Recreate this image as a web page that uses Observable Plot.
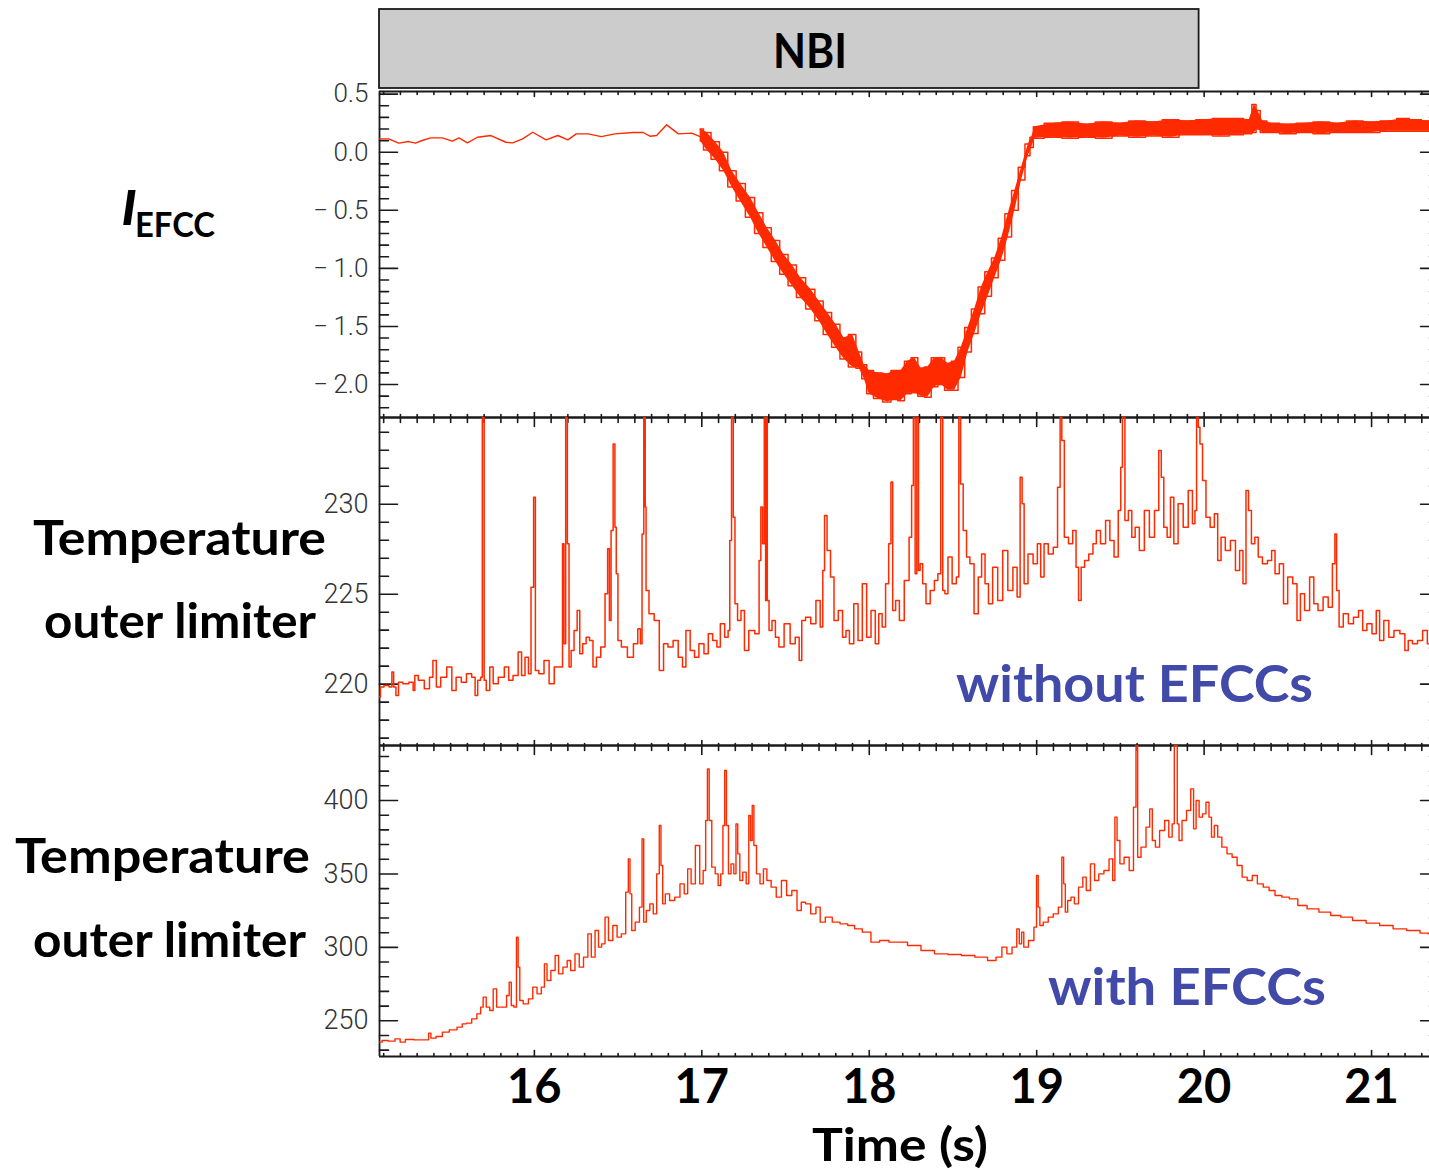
<!DOCTYPE html>
<html><head><meta charset="utf-8">
<script src="https://cdn.jsdelivr.net/npm/d3@7"></script>
<script src="https://cdn.jsdelivr.net/npm/@observablehq/plot@0.6"></script>
<style>
html,body{margin:0;padding:0;background:#fff;overflow:hidden}
#root{position:relative;width:1429px;height:1170px;overflow:hidden;background:#fff}
</style></head>
<body><div id="root"></div>
<script>
// ---------------- data ----------------
const xMajor = [16, 17, 18, 19, 20, 21];
const xMajorLabels = ["16", "17", "18", "19", "20", "21"];
const nbiStart = 15.075, nbiEnd = 19.97;

// I_EFCC : quiet part (thin trace)
const iefccQuietT = [15.075,15.13,15.19,15.25,15.29,15.33,15.38,15.45,15.51,15.55,15.60,15.66,15.74,15.83,15.87,15.93,15.99,16.07,16.14,16.20,16.25,16.32,16.40,16.48,16.59,16.65,16.69,16.73,16.79,16.86,16.94,16.99];
const iefccQuietV = [0.115,0.115,0.078,0.092,0.078,0.101,0.124,0.124,0.095,0.124,0.081,0.129,0.144,0.086,0.081,0.115,0.172,0.107,0.144,0.107,0.158,0.158,0.135,0.158,0.170,0.170,0.138,0.144,0.236,0.158,0.165,0.135];
// I_EFCC : noisy part, envelope (low / high)
const iefccBandT = [16.99,17.03,17.08,17.13,17.18,17.23,17.29,17.34,17.39,17.44,17.49,17.54,17.59,17.65,17.70,17.75,17.80,17.85,17.90,17.94,17.97,18.00,18.05,18.11,18.15,18.19,18.23,18.27,18.31,18.35,18.39,18.43,18.47,18.51,18.55,18.59,18.63,18.67,18.71,18.75,18.79,18.83,18.87,18.91,18.95,18.97,18.99,19.1,19.2,19.3,19.4,19.5,19.6,19.7,19.8,19.9,20.0,20.1,20.2,20.27,20.30,20.32,20.35,20.4,20.5,20.6,20.7,20.8,20.9,21.0,21.1,21.2,21.25,21.346];
const iefccBandLo = [0.10,0.02,-0.06,-0.16,-0.30,-0.42,-0.56,-0.70,-0.82,-0.94,-1.05,-1.15,-1.25,-1.35,-1.45,-1.57,-1.68,-1.78,-1.85,-1.86,-1.95,-2.08,-2.12,-2.15,-2.13,-2.14,-2.08,-2.07,-2.10,-2.11,-2.02,-2.00,-2.05,-2.05,-1.94,-1.72,-1.56,-1.39,-1.24,-1.08,-0.93,-0.73,-0.50,-0.24,-0.03,0.04,0.12,0.13,0.12,0.13,0.12,0.14,0.13,0.14,0.13,0.15,0.15,0.14,0.15,0.16,0.17,0.20,0.17,0.17,0.16,0.17,0.16,0.17,0.17,0.17,0.18,0.18,0.18,0.18];
const iefccBandHi = [0.20,0.17,0.09,0.00,-0.16,-0.27,-0.39,-0.52,-0.65,-0.76,-0.88,-0.97,-1.08,-1.18,-1.28,-1.38,-1.48,-1.60,-1.57,-1.72,-1.83,-1.88,-1.90,-1.91,-1.88,-1.88,-1.80,-1.77,-1.86,-1.85,-1.77,-1.77,-1.82,-1.80,-1.68,-1.51,-1.35,-1.16,-1.03,-0.91,-0.74,-0.53,-0.33,-0.13,0.07,0.13,0.22,0.25,0.26,0.24,0.26,0.25,0.27,0.26,0.28,0.27,0.28,0.29,0.29,0.28,0.41,0.36,0.27,0.25,0.24,0.25,0.26,0.25,0.27,0.26,0.27,0.29,0.28,0.27];
const iefccTicks = [-2, -1.5, -1, -0.5, 0, 0.5];
const iefccTickLabels = ["\u2212\u20092.0", "\u2212\u20091.5", "\u2212\u20091.0", "\u2212\u20090.5", "0.0", "0.5"];

// Temperature outer limiter, without EFCCs
const tempNoT = [15.075,15.086,15.117,15.147,15.151,15.168,15.178,15.199,15.230,15.271,15.281,15.291,15.322,15.363,15.384,15.404,15.425,15.456,15.497,15.517,15.548,15.579,15.610,15.641,15.651,15.672,15.686,15.692,15.698,15.702,15.723,15.744,15.764,15.805,15.836,15.857,15.888,15.918,15.929,15.959,15.970,15.990,16.001,16.011,16.042,16.073,16.103,16.134,16.165,16.171,16.182,16.192,16.202,16.212,16.227,16.247,16.264,16.278,16.299,16.319,16.340,16.360,16.381,16.412,16.432,16.443,16.453,16.463,16.478,16.484,16.494,16.504,16.535,16.576,16.607,16.628,16.638,16.648,16.659,16.665,16.669,16.700,16.731,16.761,16.782,16.813,16.844,16.874,16.895,16.915,16.946,16.967,16.998,17.028,17.049,17.080,17.100,17.121,17.152,17.162,17.172,17.183,17.193,17.203,17.224,17.244,17.265,17.296,17.337,17.347,17.358,17.368,17.378,17.384,17.388,17.394,17.409,17.429,17.450,17.471,17.512,17.543,17.573,17.590,17.604,17.635,17.666,17.697,17.717,17.728,17.738,17.758,17.779,17.800,17.830,17.851,17.871,17.892,17.923,17.943,17.974,17.995,18.026,18.046,18.067,18.087,18.108,18.124,18.135,18.145,18.170,18.190,
18.228,18.248,18.258,18.269,18.279,18.289,18.299,18.309,18.329,18.349,18.379,18.399,18.420,18.434,18.444,18.460,18.480,18.510,18.530,18.540,18.551,18.571,18.591,18.611,18.641,18.661,18.681,18.702,18.722,18.752,18.782,18.812,18.843,18.873,18.893,18.909,18.917,18.933,18.963,18.994,19.014,19.034,19.054,19.084,19.114,19.135,19.145,19.155,19.175,19.205,19.225,19.245,19.255,19.276,19.296,19.326,19.346,19.366,19.396,19.427,19.447,19.477,19.497,19.507,19.517,19.537,19.558,19.578,19.598,19.628,19.658,19.688,19.719,19.739,19.749,19.769,19.789,19.809,19.829,19.860,19.890,19.920,19.940,19.950,19.960,19.970,19.980,20.001,20.021,20.051,20.071,20.091,20.111,20.142,20.172,20.202,20.222,20.242,20.258,20.272,20.293,20.313,20.333,20.363,20.393,20.413,20.434,20.464,20.484,20.514,20.544,20.565,20.585,20.615,20.645,20.665,20.695,20.726,20.756,20.776,20.786,20.796,20.816,20.846,20.877,20.907,20.937,20.957,20.987,21.018,21.038,21.058,21.088,21.118,21.149,21.189,21.209,21.229,21.259,21.290,21.320,21.346];
const tempNoV = [219.28,219.84,219.93,219.84,220.67,219.84,219.37,220.11,220.02,220.11,219.65,220.48,220.21,219.74,220.39,221.32,219.84,220.39,220.95,219.65,220.39,220.11,220.58,220.39,219.37,220.21,220.39,234.8,234.8,220.21,219.65,220.95,220.02,220.39,220.95,220.21,220.48,221.78,220.48,221.50,220.58,225.39,230.39,220.76,220.58,221.32,220.02,220.95,220.95,227.80,222.24,234.8,227.80,220.95,221.87,222.98,224.10,221.69,222.24,222.61,222.43,220.95,221.50,222.06,225.02,227.52,223.54,228.54,233.35,228.72,226.13,222.43,222.06,221.50,222.24,223.08,222.24,228.35,234.8,229.84,225.21,223.91,223.54,220.76,222.24,222.06,222.43,221.50,220.95,222.98,221.87,221.50,222.24,221.69,222.80,222.43,222.06,223.35,222.61,222.98,227.98,234.8,229.28,224.47,223.54,224.10,221.87,222.98,222.80,226.87,229.84,227.80,234.8,224.65,234.8,224.65,222.98,223.54,222.61,222.06,223.35,222.24,222.61,221.32,223.54,223.72,223.35,224.65,223.17,226.32,229.37,227.43,225.95,223.54,224.10,222.61,222.98,222.24,224.47,222.43,225.58,222.61,224.10,222.24,223.91,223.17,225.58,227.80,231.23,224.10,224.65,223.54,
225.76,228.17,231.04,234.8,226.13,234.8,226.32,226.69,225.58,224.47,225.21,225.76,226.13,234.8,225.21,225.02,227.06,225.58,225.95,234.8,231.13,228.54,227.06,226.69,223.91,225.95,227.24,225.58,224.47,226.50,224.65,227.43,225.21,226.50,224.84,231.50,230.02,225.58,227.24,226.69,227.80,225.95,227.80,227.24,227.61,230.95,234.8,233.54,228.17,227.80,228.54,226.50,224.65,226.50,226.87,227.24,227.80,228.54,227.80,229.10,227.98,227.06,229.65,232.06,234.8,229.10,229.65,228.17,228.72,227.43,229.65,228.17,229.65,232.98,231.50,228.72,228.17,230.39,227.80,230.02,228.72,230.76,228.91,229.65,234.8,234.28,233.35,231.32,229.28,228.72,229.47,226.87,228.17,227.43,227.98,226.32,227.43,225.58,230.76,229.65,227.80,228.17,227.06,226.69,226.87,227.43,226.13,226.69,224.47,225.95,225.58,223.54,225.02,224.10,225.95,224.47,224.10,224.84,224.28,226.69,228.35,225.21,223.17,223.91,223.35,223.72,224.10,222.98,223.35,222.80,224.10,222.43,223.54,222.61,222.98,222.80,221.87,222.43,222.24,222.43,222.98,222.24];
const tempNoTicks = [220, 225, 230];
const tempNoTickLabels = ["220", "225", "230"];

// Temperature outer limiter, with EFCCs
const tempWithT = [15.075,15.106,15.147,15.188,15.209,15.250,15.312,15.363,15.374,15.390,15.435,15.466,15.517,15.559,15.579,15.610,15.641,15.672,15.686,15.702,15.723,15.744,15.764,15.785,15.826,15.842,15.857,15.867,15.888,15.898,15.908,15.918,15.949,15.980,16.001,16.031,16.052,16.068,16.083,16.114,16.134,16.155,16.186,16.206,16.227,16.258,16.278,16.309,16.330,16.350,16.375,16.391,16.412,16.432,16.453,16.484,16.504,16.535,16.556,16.566,16.576,16.587,16.617,16.638,16.648,16.658,16.679,16.700,16.720,16.741,16.751,16.761,16.772,16.792,16.823,16.854,16.885,16.905,16.926,16.946,16.977,16.998,17.018,17.028,17.039,17.049,17.070,17.090,17.105,17.121,17.131,17.142,17.152,17.166,17.183,17.199,17.209,17.220,17.234,17.255,17.275,17.286,17.296,17.306,17.316,17.337,17.358,17.378,17.399,17.429,17.460,17.491,17.522,17.553,17.584,17.604,17.635,17.666,17.697,17.717,17.758,17.800,17.851,17.892,17.933,17.984,18.036,18.087,18.149,
18.188,18.269,18.349,18.430,18.510,18.591,18.671,18.742,18.772,18.812,18.832,18.873,18.889,18.903,18.917,18.929,18.973,18.994,19.004,19.014,19.024,19.054,19.084,19.114,19.145,19.155,19.167,19.175,19.195,19.215,19.235,19.265,19.286,19.306,19.336,19.356,19.386,19.417,19.447,19.461,19.473,19.487,19.507,19.537,19.568,19.588,19.598,19.608,19.638,19.668,19.682,19.699,19.719,19.749,19.779,19.799,19.819,19.825,19.835,19.844,19.856,19.880,19.910,19.930,19.944,19.960,19.980,20.001,20.021,20.037,20.051,20.071,20.091,20.121,20.152,20.182,20.212,20.242,20.272,20.303,20.333,20.373,20.403,20.444,20.484,20.534,20.585,20.645,20.726,20.786,20.846,20.927,21.008,21.088,21.169,21.249,21.330,21.346];
const tempWithV = [235.45,236.59,236.13,237.72,235.45,237.27,237.04,237.04,241.58,238.17,239.31,242.26,243.85,245.66,247.93,248.39,251.34,254.74,259.28,266.09,259.28,257.01,271.76,259.28,259.28,267.23,276.30,260.42,259.28,306.94,286.52,263.82,261.55,264.96,272.90,268.36,272.90,288.79,277.44,284.25,294.46,281.98,286.52,291.06,284.25,295.60,286.52,293.33,309.21,293.33,311.48,300.13,302.40,320.56,304.67,314.89,306.94,309.21,337.58,360.28,336.45,311.48,317.16,327.37,373.90,317.16,325.10,329.64,322.83,350.07,382.98,355.74,329.64,336.45,331.91,334.18,343.26,336.45,353.47,343.26,369.36,343.26,352.34,386.38,421.56,386.38,354.61,350.07,342.12,350.07,382.98,420.42,382.98,350.07,356.87,350.07,384.11,363.68,345.53,351.20,343.26,389.78,372.76,396.59,369.36,350.07,343.26,353.47,345.53,340.99,334.18,345.53,335.31,338.72,325.10,330.77,329.64,322.83,327.37,317.16,320.56,317.16,316.02,314.89,312.62,310.35,303.54,304.67,303.54,
303.54,301.27,297.87,295.60,295.14,294.46,293.33,291.06,293.33,300.13,295.60,300.13,312.62,302.40,310.35,300.13,304.67,313.75,348.93,327.37,314.89,317.16,320.56,322.83,327.37,361.41,343.26,323.97,331.91,334.18,329.64,340.99,347.80,338.72,356.87,345.53,350.07,352.34,360.28,345.53,388.65,372.76,356.87,361.41,352.34,395.46,437.4,361.41,368.22,381.84,394.32,372.76,368.22,379.57,386.38,375.03,384.11,437.4,437.4,384.11,372.76,386.38,393.19,407.94,380.71,400.00,388.65,390.92,398.86,388.65,375.03,382.98,375.03,368.22,363.68,361.41,355.74,347.80,345.53,348.93,343.26,340.99,338.72,335.31,334.18,333.04,328.50,326.24,323.97,321.70,320.56,318.29,316.48,314.89,312.62,311.48,309.67,309.21];
const tempWithTicks = [250, 300, 350, 400];
const tempWithTickLabels = ["250", "300", "350", "400"];

// ---------------- layout / style ----------------
const W = 1429, ML = 379;
const X0 = 15.075, X1 = 21.346, XFRAME = 21.40;
const RED = "#ff2a00", INK = "#1a1a1a", BLUE = "#4149a9";
const BOLD = "Lato, 'Open Sans', sans-serif";
const THIN = "Roboto, 'DejaVu Sans', sans-serif";
const root = document.getElementById("root");

const xMinor = d3.range(151, 214).map(d => d / 10).filter(d => Math.abs(d - Math.round(d)) > 1e-6);
function minorOf(lo, hi, step, majorStep) {
  return d3.range(Math.round(lo / step), Math.round(hi / step) + 1).map(k => +(k * step).toFixed(4))
    .filter(v => Math.abs(v / majorStep - Math.round(v / majorStep)) > 1e-6);
}

const seg = {draw(ctx, l) { ctx.moveTo(0, 0); ctx.lineTo(0, -l); }};
const tv = (data, o) => Plot.vector(data, {shape: seg, anchor: "start", stroke: INK, strokeWidth: 1.6, ...o});

function frame(dom, major, minor, labels, fs, topLen, botLen) {
  const [y0, y1] = dom;
  return [
    Plot.ruleY([y0, y1], {stroke: INK, strokeWidth: 1.8}),
    Plot.ruleX([X0], {stroke: INK, strokeWidth: 1.8}),
    tv(major, {x: () => X0, y: d => d, rotate: 90, length: 18}),
    tv(minor, {x: () => X0, y: d => d, rotate: 90, length: 9}),
    tv(major, {x: () => XFRAME, y: d => d, rotate: -90, length: 18}),
    tv(minor, {x: () => XFRAME, y: d => d, rotate: -90, length: 9}),
    tv(xMajor, {x: d => d, y: () => y1, rotate: 180, length: topLen[0]}),
    tv(xMinor, {x: d => d, y: () => y1, rotate: 180, length: topLen[1]}),
    tv(xMajor, {x: d => d, y: () => y0, rotate: 0, length: botLen[0]}),
    tv(xMinor, {x: d => d, y: () => y0, rotate: 0, length: botLen[1]}),
    Plot.text(major, {x: () => X0, y: d => d, text: (d, i) => labels[i], textAnchor: "end", dx: -11,
      fontSize: fs, fontFamily: THIN, fontWeight: 300, fill: "#333"})
  ];
}

function mount(dom, areaH, top, mTop, mBottom, marks) {
  const p = Plot.plot({
    width: W, height: areaH + mTop + mBottom,
    marginLeft: ML, marginRight: 0, marginTop: mTop, marginBottom: mBottom,
    x: {domain: [X0, X1], axis: null},
    y: {domain: dom, axis: null},
    style: {background: "transparent", overflow: "visible", maxWidth: "none"},
    marks
  });
  p.style.position = "absolute"; p.style.left = "0px"; p.style.top = top + "px";
  root.appendChild(p);
}

// NBI bar
mount([0, 1], 79, 0, 9, 12, [
  Plot.rect([{s: nbiStart, e: nbiEnd}], {x1: "s", x2: "e", y1: () => 0, y2: () => 1, fill: "#cccccc", stroke: INK, strokeWidth: 1.8})
]);

// Panel 1: I_EFCC
const quiet = iefccQuietT.map((t, i) => ({t, v: iefccQuietV[i]}));
const band = iefccBandT.map((t, i) => ({t, lo: iefccBandLo[i], hi: iefccBandHi[i]}));
const dom1 = [-2.284, 0.523];
mount(dom1, 326, 81, 10, 10, [
  ...frame(dom1, iefccTicks, minorOf(-2.2, 0.5, 0.1, 0.5), iefccTickLabels, 26, [5, 3], [5, 3]),
  Plot.line(quiet, {x: "t", y: "v", stroke: RED, strokeWidth: 1.4, clip: true}),
  Plot.areaY(band, {x: "t", y1: "lo", y2: "hi", fill: RED, clip: true}),
  Plot.line(band, {x: "t", y: "lo", stroke: RED, strokeWidth: 1.5, curve: "step", clip: true}),
  Plot.line(band, {x: "t", y: "hi", stroke: RED, strokeWidth: 1.5, curve: "step", clip: true})
]);

// Panel 2: without EFCCs
const noData = tempNoT.map((t, i) => ({t, v: tempNoV[i]}));
const dom2 = [216.59, 234.82];
mount(dom2, 328, 407, 10, 10, [
  ...frame(dom2, tempNoTicks, minorOf(217, 234, 1, 5), tempNoTickLabels, 27, [9, 5], [5, 2]),
  Plot.line(noData, {x: "t", y: "v", stroke: RED, strokeWidth: 1.5, curve: "step", clip: true})
]);

// Panel 3: with EFCCs + time axis
const withData = tempWithT.map((t, i) => ({t, v: tempWithV[i]}));
const dom3 = [225.69, 437.45];
mount(dom3, 311, 735, 10, 114, [
  ...frame(dom3, tempWithTicks, minorOf(230, 430, 10, 50), tempWithTickLabels, 27, [9, 5], [6, 3]),
  Plot.line(withData, {x: "t", y: "v", stroke: RED, strokeWidth: 1.4, curve: "step", clip: true}),
  Plot.text(xMajor, {x: d => d, frameAnchor: "bottom", dy: 46, text: (d, i) => xMajorLabels[i],
    fontSize: 47, fontWeight: 700, fontFamily: BOLD, fill: "#000"})
]);

// ---------------- text overlay ----------------
const ov = d3.select(root).append("svg")
  .attr("width", W).attr("height", 1170)
  .style("position", "absolute").style("left", "0px").style("top", "0px")
  .style("pointer-events", "none").style("overflow", "visible");

function label(txt, x, y, size, len, fill = "#000", extra = {}) {
  const t = ov.append("text").attr("x", x).attr("y", y)
    .attr("font-family", BOLD).attr("font-weight", 700).attr("font-size", size)
    .attr("fill", fill).text(txt);
  if (len) t.attr("textLength", len).attr("lengthAdjust", "spacingAndGlyphs");
  for (const k in extra) t.attr(k, extra[k]);
  return t;
}

label("NBI", 773, 68, 48, 74);
label("I", 121, 225, 48, 16, "#000", {"font-style": "italic"});
label("EFCC", 135, 237, 34, 80);
label("Temperature", 33, 555, 48, 293);
label("outer limiter", 44, 638, 48, 272);
label("Temperature", 15, 873, 48, 295);
label("outer limiter", 33, 957, 48, 273);
label("without EFCCs", 956, 702, 52, 357, BLUE);
label("with EFCCs", 1048, 1005, 52, 278, BLUE);
label("Time (s)", 812, 1161, 46, 176);
</script>
</body></html>
